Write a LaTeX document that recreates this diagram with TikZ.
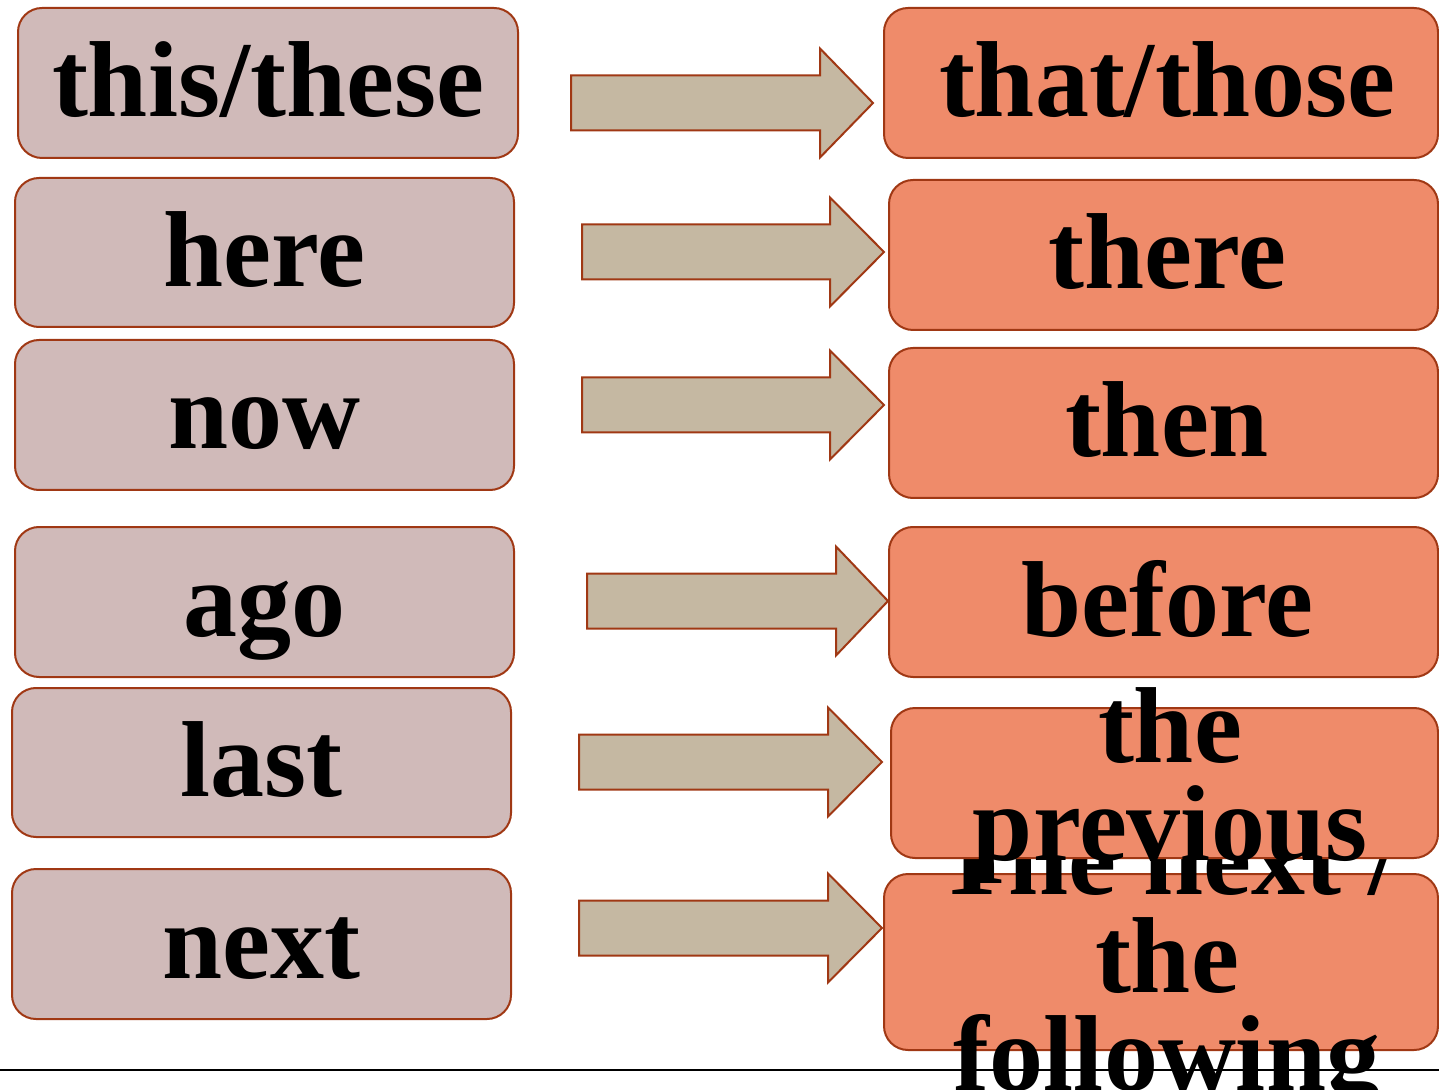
\documentclass[tikz,border=0pt]{standalone}
\usepackage{fontspec}
\setmainfont{Liberation Serif}
\definecolor{boxline}{RGB}{160,56,20}
\definecolor{oldfill}{RGB}{208,186,185}
\definecolor{newfill}{RGB}{239,139,106}
\definecolor{arrowfill}{RGB}{197,184,162}
\begin{document}
\begin{tikzpicture}[x=0.5pt,y=-0.5pt,line join=round,
	oldbox/.style={draw=boxline,line width=1pt,fill=oldfill,rounded corners=12pt},
	newbox/.style={draw=boxline,line width=1pt,fill=newfill,rounded corners=12pt},
	shiftarrow/.style={draw=boxline,line width=1pt,fill=arrowfill,line join=miter},
	word/.style={font=\fontsize{54}{49}\selectfont\bfseries,anchor=base,inner sep=0pt,align=center}]
	\useasboundingbox (0,0) rectangle (1439,1090);
	\clip (0,0) rectangle (1439,1090);
	% left column
	\foreach \n/\txt/\xa/\xb/\ya/\yb in {
		1/this\slash these/18/518/8/158,
		2/here/15/514/178/327,
		3/now/15/514/340/490,
		4/ago/15/514/527/677,
		5/last/12/511/688/837,
		6/next/12/511/869/1019}{
		\path[oldbox] (\xa,\ya) rectangle (\xb,\yb);
		\node[word] (old\n) at ({(\xa+\xb)/2},{(\ya+\yb)/2+34}) {\txt};
	}
	% arrows
	\foreach \xs/\xh/\xt/\yc in {571/820/873/103, 582/830/884/252, 582/830/884/405,
		587/836/888/601, 579/828/882/762, 579/828/882/928}{
		\draw[shiftarrow] (\xs,\yc-27.5) -- (\xh,\yc-27.5) -- (\xh,\yc-54.5) -- (\xt,\yc)
			-- (\xh,\yc+54.5) -- (\xh,\yc+27.5) -- (\xs,\yc+27.5) -- cycle;
	}
	% right column
	\foreach \n/\txt/\xa/\ya/\yb in {
		1/that\slash those/884/8/158,
		2/there/889/180/330,
		3/then/889/348/498,
		4/before/889/527/677}{
		\path[newbox] (\xa,\ya) rectangle (1438,\yb);
		\node[word] (new\n) at (1167,{(\ya+\yb)/2+34}) {\txt};
	}
	\draw[line width=1pt] (0,1070) -- (1439,1070);
	% base of a multi-line node is its last line
	\path[newbox] (884,874) rectangle (1438,1050);
	\node[word] (new6) at (1167,1090) {The next /\\the\\following};
	\path[newbox] (891,708) rectangle (1438,858);
	\node[word] (new5) at (1170,860) {the\\previous};
\end{tikzpicture}
\end{document}
